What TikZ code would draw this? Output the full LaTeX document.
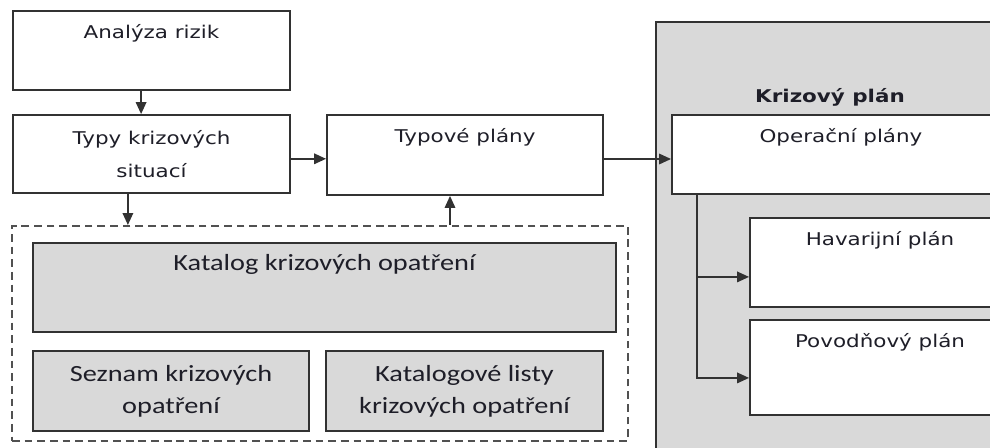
\documentclass[tikz,border=0pt]{standalone}
\usepackage{fontspec}
\usepackage{xcolor}
\usepackage{tikz}
\usetikzlibrary{arrows.meta, positioning, calc}
\newfontfamily\vfont[FakeStretch=1.22]{DejaVu Sans}
\newfontfamily\cfont[FakeStretch=1.22]{Carlito}
\newcommand{\vtext}{\vfont\fontsize{12.5pt}{23pt}\selectfont}
\newcommand{\ctext}{\cfont\fontsize{16.5pt}{23pt}\selectfont}
\definecolor{edge}{RGB}{50, 50, 50}
\definecolor{panel}{RGB}{217, 217, 217}
\definecolor{ink}{RGB}{30, 30, 40}
\tikzset{
    plainbox/.style={rectangle, draw=edge, line width=1.3pt, fill=white, inner sep=0pt, align=center, font=\vtext, text=ink},
    greybox/.style={plainbox, fill=panel, font=\ctext},
    toptext/.style={label={[anchor=base, yshift=-0.7cm, font=\vtext, text=ink]north:#1}},
    catext/.style={label={[anchor=base, yshift=-0.7cm, font=\ctext, text=ink]north:#1}},
    arrow/.style={line width=1.1pt, draw=edge, -{Triangle[length=8.5pt, width=7.5pt]}},
    group/.style={rectangle, draw=edge!85, line width=1.4pt, dash pattern=on 5.5pt off 3.5pt, inner sep=0pt}
}

\begin{document}
\begin{tikzpicture}[x=0.025cm, y=-0.025cm]
        \useasboundingbox (0,0) rectangle (990,447);
        \clip (0,0) rectangle (990,447);

        % Crisis plan panel on the right
        \node[greybox, minimum width=8.85cm, minimum height=10.95cm] (krizovy) at (833,241) {};
        \node[anchor=base, font=\vtext\bfseries, text=ink] (krizovy-t) at (830,102) {Krizový plán};

        % Upper chain
        \node[plainbox, minimum width=6.925cm, minimum height=1.975cm, toptext=Analýza rizik] (analyza) at (151.5,50.5) {};
        \node[plainbox, minimum width=6.925cm, minimum height=1.95cm] (typy) at (151.5,154) {Typy krizových\\situací};
        \node[plainbox, minimum width=6.9cm, minimum height=2cm, toptext=Typové plány] (typove) at (465,155) {};

        % Plans inside the panel
        \node[plainbox, minimum width=8.45cm, minimum height=1.975cm, toptext=Operační plány] (operacni) at (841,154.5) {};
        \node[plainbox, minimum width=6.5cm, minimum height=2.225cm, toptext=Havarijní plán] (havarijni) at (880,262.5) {};
        \node[plainbox, minimum width=6.5cm, minimum height=2.375cm, toptext=Povodňový plán] (povodnovy) at (880,367.5) {};

        % Catalogue group
        \node[group, minimum width=15.4cm, minimum height=5.375cm] (cont) at (320,333.5) {};
        \node[greybox, minimum width=14.575cm, minimum height=2.225cm, catext=Katalog krizových opatření] (katalog) at (324.5,287.5) {};
        \node[greybox, minimum width=6.9cm, minimum height=2cm] (seznam) at (171,391) {Seznam krizových\\opatření};
        \node[greybox, minimum width=6.925cm, minimum height=2cm] (listy) at (464.5,391) {Katalogové listy\\krizových opatření};

        % Arrows
        \draw[arrow] ([xshift=-0.26cm]analyza.south) -- ([xshift=-0.26cm]typy.north);
        \draw[arrow] ([yshift=-0.12cm]typy.east) -- ([yshift=-0.12cm]typy.east -| typove.west);
        \draw[arrow] ([yshift=-0.1cm]typove.east) -- ([yshift=-0.1cm]typove.east -| operacni.west);
        \draw[arrow] ([xshift=-0.59cm]typy.south) -- ([xshift=-0.59cm]typy.south |- cont.north);
        \draw[arrow] ([xshift=-0.375cm]typove.south |- cont.north) -- ([xshift=-0.375cm]typove.south);
        \draw[arrow] ([xshift=0.65cm]operacni.south west) |- ([yshift=-0.36cm]havarijni.west);
        \draw[arrow] ([xshift=0.65cm]operacni.south west) |- ([yshift=-0.26cm]povodnovy.west);
    \end{tikzpicture}
\end{document}
